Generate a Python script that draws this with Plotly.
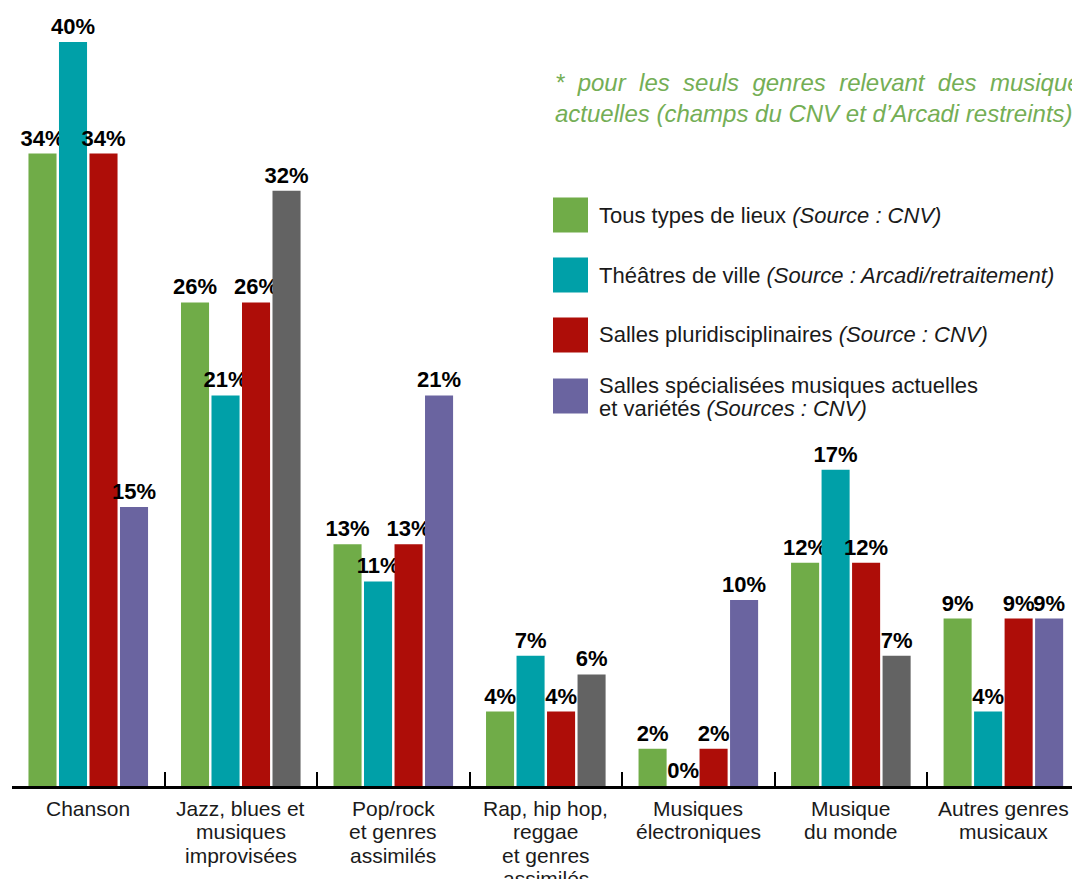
import plotly.graph_objects as go

# ---------------- data ----------------
categories = [
    "Chanson",
    "Jazz, blues et<br>musiques<br>improvisées",
    "Pop/rock<br>et genres<br>assimilés",
    "Rap, hip hop,<br>reggae<br>et genres<br>assimilés",
    "Musiques<br>électroniques",
    "Musique<br>du monde",
    "Autres genres<br>musicaux",
]
series_names = [
    "Tous types de lieux <i>(Source : CNV)</i>",
    "Théâtres de ville <i>(Source : Arcadi/retraitement)</i>",
    "Salles pluridisciplinaires <i>(Source : CNV)</i>",
    "Salles spécialisées musiques actuelles<br>et variétés <i>(Sources : CNV)</i>",
]
tous_types = [34, 26, 13, 4, 2, 12, 9]
theatres_ville = [40, 21, 11, 7, 0, 17, 4]
salles_pluri = [34, 26, 13, 4, 2, 12, 9]
salles_smac = [15, 32, 21, 6, 10, 7, 9]
smac_grey = [False, True, False, True, False, True, False]

note_text = ("*\u00a0 pour\u00a0 les\u00a0 seuls\u00a0 genres\u00a0 relevant\u00a0 des\u00a0 musiques<br>"
             "actuelles (champs du CNV et d’Arcadi restreints)")

# ---------------- style ----------------
GREEN = "#70AC48"
TEAL = "#00A0A8"
RED = "#AE0D08"
PURPLE = "#6A64A0"
GREY = "#636363"
FONT = "Liberation Sans"

W, H = 1072, 879
L, R, T, B = 12, 0, 0, 93
PW, PH = W - L - R, H - T - B


def px(x):
    return (x - L) / PW


def py(y):
    return (H - B - y) / PH


series_values = [tous_types, theatres_ville, salles_pluri, salles_smac]
series_colors = [
    [GREEN] * len(categories),
    [TEAL] * len(categories),
    [RED] * len(categories),
    [GREY if g else PURPLE for g in smac_grey],
]

fig = go.Figure()
for name, vals, cols in zip(series_names, series_values, series_colors):
    fig.add_trace(go.Bar(
        x=categories, y=vals, name=name,
        marker=dict(color=cols, line=dict(width=0)),
        texttemplate="%{y}%", textposition="outside",
        textfont=dict(family=FONT, size=22, color="black", weight="bold"),
        constraintext="none", cliponaxis=False,
        showlegend=False,
    ))

annotations = []
# category labels, one line each for tight leading
for i, cat in enumerate(categories):
    for j, line in enumerate(cat.split("<br>")):
        annotations.append(dict(
            x=i, y=0, xref="x", yref="y", text=line, showarrow=False,
            xanchor="center", yanchor="middle", yshift=-(22 + 23.5 * j),
            font=dict(family=FONT, size=21, color="#1a1a1a"),
        ))

# note
annotations.append(dict(
    x=px(553), y=py(98), xref="paper", yref="paper", text=note_text,
    showarrow=False, xanchor="left", yanchor="middle", align="left",
    font=dict(family=FONT, size=24, color="#74AE55", style="italic"),
))

# custom legend
shapes = []
legend_centers = [215, 275, 335, 396]
for k, (name, c) in enumerate(zip(series_names, [GREEN, TEAL, RED, PURPLE])):
    yc = legend_centers[k]
    shapes.append(dict(
        type="rect", xref="paper", yref="paper",
        x0=px(553), x1=px(588), y0=py(yc + 17.5), y1=py(yc - 17.5),
        fillcolor=c, line=dict(width=0),
    ))
    lines = name.split("<br>")
    offs = [0] if len(lines) == 1 else [-11, 12]
    for line, off in zip(lines, offs):
        annotations.append(dict(
            x=px(597), y=py(yc + off), xref="paper", yref="paper", text=line,
            showarrow=False, xanchor="left", yanchor="middle",
            font=dict(family=FONT, size=22, color="#1a1a1a"),
        ))

fig.update_layout(
    width=W, height=H,
    margin=dict(l=L, r=R, t=T, b=B, pad=0),
    paper_bgcolor="white", plot_bgcolor="white",
    barmode="group", bargap=0.2, bargroupgap=0.08,
    showlegend=False,
    xaxis=dict(
        range=[-0.5, 6.45], showgrid=False, zeroline=False,
        showline=True, linewidth=3, linecolor="black",
        ticks="inside", tickson="boundaries", ticklen=14, tickwidth=1.5,
        tickcolor="black", showticklabels=False,
    ),
    yaxis=dict(range=[0, PH / 18.6], visible=False),
    annotations=annotations,
    shapes=shapes,
)

fig.write_html("out.html")
